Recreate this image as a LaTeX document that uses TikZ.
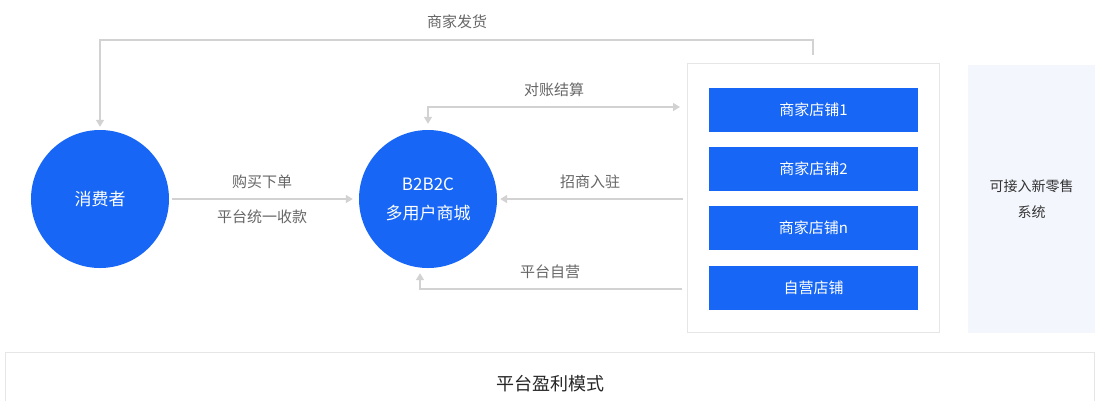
\documentclass[tikz,border=0pt]{standalone}
\usepackage{fontspec}
\setmainfont{Noto Sans CJK SC}
\usetikzlibrary{arrows.meta}
\definecolor{mblue}{HTML}{1766F5}
\definecolor{lgray}{HTML}{D2D2D2}
\definecolor{tgray}{HTML}{666666}
\definecolor{bgray}{HTML}{E6E6E6}
\definecolor{pfill}{HTML}{F3F6FD}
\definecolor{dtext}{HTML}{333333}
\begin{document}
\begin{tikzpicture}[x=1pt,y=-1pt,
  circ/.style={circle,fill=mblue,minimum size=138pt,inner sep=0pt,text=white,align=center,font=\fontsize{17}{29}\selectfont},
  store/.style={rectangle,fill=mblue,minimum width=209pt,minimum height=44pt,inner sep=0pt,text=white,font=\fontsize{15}{18}\selectfont},
  lbl/.style={text=tgray,font=\fontsize{15}{18}\selectfont,inner sep=0pt},
  conn/.style={draw=lgray,line width=1.4pt},
  arr/.style={conn,-{Triangle[width=8pt,length=7pt]}},
  darr/.style={conn,{Triangle[width=8pt,length=7pt]}-{Triangle[width=8pt,length=7pt]}}
]
\useasboundingbox (0,0) rectangle (1100,400);
\clip (0,0) rectangle (1100,400);
\fill[white] (0,0) rectangle (1100,400);

% circles
\node[circ] (c) at (100,199) {消费者};
\node[circ] (m) at (428,199) {B2B2C\\多用户商城};

% stores container
\node[rectangle,draw=bgray,line width=0.8pt,fill=white,minimum width=252pt,minimum height=269pt,inner sep=0pt] (sb) at (813,198) {};
\node[store] (s1) at (813.5,110) {商家店铺1};
\node[store] (s2) at (813.5,169) {商家店铺2};
\node[store] (sn) at (813.5,228) {商家店铺n};
\node[store] (s0) at (813.5,287.5) {自营店铺};

% right panel
\node[rectangle,fill=pfill,minimum width=127pt,minimum height=268pt,inner sep=0pt,text=dtext,align=center,font=\fontsize{14}{26}\selectfont] (rp) at (1031.5,199) {可接入新零售\\系统};

% bottom box
\node[rectangle,draw=bgray,line width=0.8pt,fill=white,minimum width=1089pt,minimum height=70pt,inner sep=0pt] (bt) at (549.5,387) {};
\node[text=black!85,font=\fontsize{18}{22}\selectfont,inner sep=0pt] (btl) at (550,384) {平台盈利模式};

% free ends
\coordinate (e1) at (680,107);
\coordinate (e2) at (683,199);
\coordinate (e3) at (682,289);

% connectors
\draw[arr] ([yshift=8pt]sb.north) -- ++(0,-15) -| ([yshift=3pt]c.north);
\draw[darr] ([yshift=6pt]m.north) |- (e1);
\draw[arr] ([xshift=3pt]c.east) -- ([xshift=-6pt]m.west);
\draw[arr] (e2) -- ([xshift=3pt]m.east);
\draw[arr] (e3) -| ([xshift=-8pt,yshift=-5pt]m.south);

% labels
\node[lbl] (l1) at (457,22) {商家发货};
\node[lbl] (l2) at (554,90) {对账结算};
\node[lbl] (l3) at (262,182) {购买下单};
\node[lbl] (l4) at (262,217) {平台统一收款};
\node[lbl] (l5) at (590,182) {招商入驻};
\node[lbl] (l6) at (550,272) {平台自营};
\end{tikzpicture}
\end{document}
